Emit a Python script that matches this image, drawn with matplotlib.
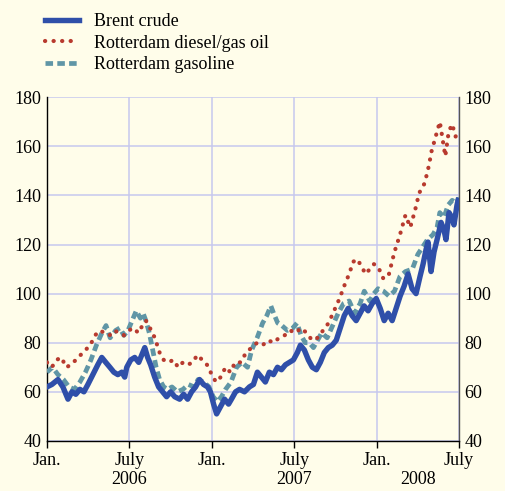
import matplotlib
matplotlib.use("Agg")
import matplotlib.pyplot as plt
import matplotlib.transforms as mtransforms

# x values are months since Jan. 2006
brent_m = [0, 0.36, 0.8, 1.16, 1.53, 1.82, 2.1, 2.4, 2.69, 2.98, 3.34, 3.7, 3.99, 4.28, 4.58,
           4.87, 5.16, 5.45, 5.66, 5.81, 6.1, 6.39, 6.68, 6.9, 7.12, 7.33, 7.55, 7.84, 8.13,
           8.42, 8.71, 9.0, 9.3, 9.66, 9.95, 10.24, 10.53, 10.82, 11.11, 11.4, 11.69, 11.9,
           12.13, 12.35, 12.64, 12.93, 13.22, 13.43, 13.73, 14.02, 14.38, 14.74, 15.03, 15.32,
           15.61, 15.9, 16.19, 16.49, 16.78, 17.07, 17.36, 17.65, 17.94, 18.23, 18.45, 18.74,
           19.03, 19.32, 19.61, 19.9, 20.19, 20.48, 20.77, 21.06, 21.35, 21.64, 21.93, 22.22,
           22.51, 22.8, 23.09, 23.38, 23.68, 23.97, 24.26, 24.55, 24.84, 25.13, 25.42, 25.71,
           26.0, 26.29, 26.58, 26.87, 27.16, 27.38, 27.6, 27.74, 27.96, 28.18, 28.4, 28.69,
           28.9, 29.05, 29.27, 29.48, 29.63, 29.85, 29.93]
brent_v = [62, 63, 65, 62, 57, 60, 59, 61, 60, 63, 67, 71, 74, 72, 70,
           68, 67, 68, 66, 70, 73, 74, 72, 75, 78, 74, 71, 66, 62,
           60, 58, 60, 58, 57, 59, 57, 60, 62, 65, 63, 62, 60,
           55, 51, 54, 57, 55, 57, 60, 61, 60, 62, 63, 68,
           66, 64, 68, 67, 70, 69, 71, 72, 73, 76, 79, 77,
           73, 70, 69, 72, 76, 78, 79, 81, 86, 91, 94, 91,
           89, 92, 95, 93, 96, 98, 94, 89, 92, 89, 94, 99,
           103, 108, 102, 100, 107, 112, 118, 121, 109, 117, 122, 129,
           126, 122, 133, 131, 128, 136, 138]

diesel_m = [0, 0.35, 0.7, 1.05, 1.4, 1.75, 2.1, 2.45, 2.8, 3.15, 3.5, 3.85, 4.2, 4.55, 4.9,
            5.25, 5.6, 5.95, 6.3, 6.65, 6.95, 7.2, 7.5, 7.85, 8.2, 8.5, 8.85, 9.2, 9.55, 9.9,
            10.25, 10.6, 10.95, 11.3, 11.65, 12.0, 12.3, 12.65, 13.0, 13.35, 13.7, 14.1, 14.5,
            14.9, 15.3, 15.7, 16.1, 16.5, 16.9, 17.3, 17.7, 18.1, 18.5, 18.9, 19.3, 19.7, 20.1,
            20.5, 20.9, 21.3, 21.7, 22.0, 22.3, 22.6, 22.9, 23.2, 23.5, 23.8, 24.1, 24.5, 24.9,
            25.3, 25.7, 26.1, 26.45, 26.8, 27.1, 27.5, 27.8, 28.0, 28.3, 28.6, 28.8, 29.0,
            29.25, 29.5, 29.75, 30.0]
diesel_v = [72, 70, 73, 74, 70, 71, 73, 75, 77, 79, 83, 85, 84, 83, 85,
            84, 83, 85, 86, 84, 87, 89, 86, 82, 76, 73, 72, 73, 70, 72,
            71, 72, 75, 73, 71, 67, 64, 66, 70, 68, 72, 72, 76,
            78, 80, 79, 81, 80, 82, 83, 85, 84, 86, 84, 81, 82, 85,
            88, 93, 98, 104, 108, 113, 114, 111, 108, 110, 112, 111, 106, 108,
            117, 124, 132, 127, 134, 141, 145, 152, 158, 164, 170, 163, 156,
            166, 169, 164, 167]

gasoline_m = [0, 0.4, 0.8, 1.2, 1.6, 2.0, 2.4, 2.8, 3.2, 3.6, 4.0, 4.3, 4.6, 5.0, 5.3, 5.6,
              5.9, 6.2, 6.5, 6.8, 7.0, 7.2, 7.45, 7.7, 7.95, 8.2, 8.5, 8.8, 9.1, 9.5, 9.9,
              10.3, 10.7, 11.0, 11.4, 11.8, 12.1, 12.4, 12.7, 13.0, 13.4, 13.8, 14.2, 14.6,
              14.9, 15.3, 15.7, 16.0, 16.3, 16.5, 16.8, 17.1, 17.5, 17.9, 18.2, 18.5, 18.8,
              19.1, 19.4, 19.7, 20.0, 20.4, 20.8, 21.2, 21.6, 22.0, 22.4, 22.8, 23.1, 23.5,
              23.8, 24.1, 24.5, 24.9, 25.3, 25.7, 26.1, 26.6, 27.0, 27.35, 27.7, 28.1, 28.4,
              28.6, 28.9, 29.2, 29.5, 29.8, 30.0]
gasoline_v = [68, 70, 67, 65, 62, 61, 64, 68, 73, 79, 84, 87, 82, 85, 86, 83,
              85, 89, 93, 90, 92, 89, 84, 77, 70, 65, 62, 61, 62, 60, 61,
              63, 62, 65, 64, 62, 58, 56, 58, 61, 64, 70, 72, 70,
              77, 82, 88, 91, 95, 92, 88, 87, 85, 86, 88, 83, 80,
              80, 78, 81, 84, 82, 87, 92, 96, 97, 92, 96, 101, 97,
              100, 102, 101, 99, 101, 107, 109, 110, 116, 119, 122, 124, 127,
              133, 131, 136, 138, 137, 139]

tick_months = [0, 6, 12, 18, 24, 30]
tick_labels = ["Jan.", "July", "Jan.", "July", "Jan.", "July"]
year_pos = [6, 18, 27]
year_labels = ["2006", "2007", "2008"]
y_ticks = [40, 60, 80, 100, 120, 140, 160, 180]

BG = "#fffdea"
GRID = "#c6c8ee"
C_BRENT = "#2f4fa9"
C_DIESEL = "#b83a2e"
C_GAS = "#6096a6"

plt.rcParams["font.family"] = ["Liberation Serif", "DejaVu Serif"]

fig = plt.figure(figsize=(5.05, 4.91), dpi=100, facecolor=BG)
ax = fig.add_axes([0.093, 0.102, 0.816, 0.700], facecolor=BG)

ax.plot(gasoline_m, gasoline_v, color=C_GAS, lw=3.4, ls=(0, (1.6, 0.9)),
        label="Rotterdam gasoline", zorder=3)
ax.plot(diesel_m, diesel_v, color=C_DIESEL, lw=3.0, ls=(0, (0.05, 2.0)),
        dash_capstyle="round", label="Rotterdam diesel/gas oil", zorder=4)
ax.plot(brent_m, brent_v, color=C_BRENT, lw=3.9, label="Brent crude", zorder=5)

ax.set_xlim(0, 30)
ax.set_ylim(40, 180)
ax.set_yticks(y_ticks)
ax.set_xticks(tick_months)
ax.set_xticklabels(tick_labels)
ax.grid(True, color=GRID, lw=1.1)
ax.set_axisbelow(True)

ax.spines["top"].set_visible(False)
for s in ["left", "right", "bottom"]:
    ax.spines[s].set_color("black")
    ax.spines[s].set_linewidth(1.0)
ax.spines["right"].set_color("#555555")

ax.tick_params(axis="y", length=0, labelsize=13, labelright=True, pad=4)
ax.tick_params(axis="x", length=5, width=1.0, labelsize=13, pad=3, direction="out")

trans = mtransforms.blended_transform_factory(ax.transData, ax.transAxes)
for xp, lab in zip(year_pos, year_labels):
    ax.text(xp, -0.088, lab, transform=trans, ha="center", va="top", fontsize=13)

h, l = ax.get_legend_handles_labels()
order = [2, 1, 0]
fig.legend([h[i] for i in order], [l[i] for i in order], loc="upper left",
           bbox_to_anchor=(0.068, 0.995), frameon=False, fontsize=13,
           handlelength=1.9, handletextpad=0.8, labelspacing=0.25, borderaxespad=0.2)

fig.savefig("out.png", dpi=100, facecolor=BG)
